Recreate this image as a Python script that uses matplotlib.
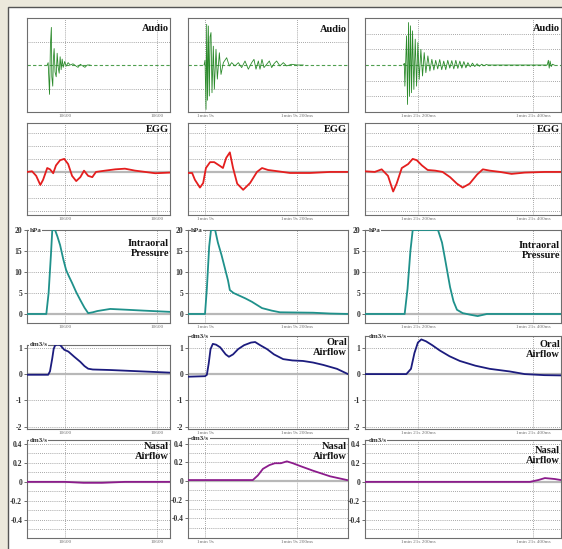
import matplotlib
matplotlib.use('Agg')
import matplotlib.pyplot as plt
from matplotlib.patches import Rectangle

W, H = 562, 549

# --- x axis: time in ms relative to the first grid line of each column ---
tick_pos = [0, 200]
col_tick_labels = [['10600', '10600'],
                   ['1min 9s', '1min 9s 200ms'],
                   ['1min 21s 200ms', '1min 21s 400ms']]

# --- Audio ---
audio1_t = [-39, -37, -34, -32, -30, -29, -27, -25.5, -24, -22, -19.5, -17.4, -15.2, -13, -10.9,
            -8.7, -6.5, -4.3, -1, 2, 6.5, 11, 17, 24, 28, 33, 39, 43, 48, 54]
audio1_v = [0, 0.1, -1.25, 0.9, 1.6, -0.5, -0.9, 0.3, 0.7, -0.3, -0.5, 0.5, -0.1, -0.35, 0.35,
            -0.2, 0.25, -0.1, 0.15, -0.05, 0.1, 0, 0.05, -0.05, -0.1, 0.03, -0.05, -0.1, 0, 0]
audio2_t = [-2, 0, 2.2, 3.6, 5.5, 7.2, 9.4, 11, 13, 15.2, 18.1, 20.3, 23.9, 26.8, 31.2, 34.8, 39.9,
            47.1, 52.9, 58, 65.2, 72.5, 79.7, 87, 94.2, 101.5, 106.5, 110.9, 116, 119.6, 123.9,
            128.3, 134.1, 139.9, 145, 150.7, 155.8, 163, 170.3, 177.5, 188.4, 199.3, 213.8]
audio2_v = [0, 0.2, -1.89, 1.73, -1.5, 1.66, -1.32, 1.2, 1.38, -1.18, 0.8, -1.03, 0.67, -0.6, 0.52,
            -0.4, 0.1, 0.31, -0.04, 0.1, -0.04, 0.1, -0.11, 0.17, -0.18, 0.1, 0.24, -0.18, 0.17,
            -0.18, 0.24, -0.11, 0.03, 0.17, -0.11, 0.07, 0.17, -0.04, 0.1, -0.04, 0.03, 0, 0]
audio3_t = [-25, -23.7, -22.6, -19.7, -18, -16.2, -14.5, -12.8, -11, -9.3, -7, -4.6, -2.3, 0, 2.3,
            5.2, 8.1, 11, 13.9, 17.4, 20.9, 24.3, 27.8, 31, 34.5, 38, 41.5, 45, 48.5, 52, 55.5,
            59, 62.5, 66, 69.5, 73, 76.5, 80, 83.5, 87, 91, 95, 99, 103, 107, 111, 115, 119, 122,
            225, 227, 228.5, 230, 232, 234, 237]
audio3_v = [0, 0.1, -1.35, 1.86, -2.52, 2.71, -1.99, 2.5, -1.77, 2.18, -1.56, 1.65, -1.35, 1.43,
            -0.92, 1.0, -0.7, 0.79, -0.49, 0.58, -0.38, 0.36, -0.32, 0.3, -0.25, 0.35, -0.3, 0.25,
            -0.3, 0.3, -0.2, 0.28, -0.25, 0.3, -0.22, 0.25, -0.2, 0.22, -0.18, 0.15, -0.12, 0.12,
            -0.1, 0.08, -0.08, 0.05, -0.05, 0.03, 0,
            0, 0.3, -0.2, 0.25, -0.1, 0.05, 0]

# --- EGG ---
egg1_t = [-83, -72, -63, -54, -48, -39, -33, -26, -20, -11, -2, 6.5, 15, 24, 33, 41, 50, 59, 67,
          87, 109, 130, 152, 174, 196, 228]
egg1_v = [0, 0.05, -0.3, -1.0, -0.6, 0.3, 0.2, -0.1, 0.5, 0.9, 1.0, 0.6, -0.3, -0.7, -0.4, 0.1,
          -0.3, -0.4, 0.0, 0.1, 0.2, 0.25, 0.1, 0.0, -0.1, -0.05]
egg2_t = [-37, -28, -22, -11, -4, 2, 11, 20, 33, 39, 46, 54, 61, 70, 83, 98, 113, 124, 137, 152,
          185, 228, 272, 311]
egg2_v = [-0.08, -0.08, -0.6, -1.2, -0.85, 0.3, 0.75, 0.75, 0.45, 0.3, 1.07, 1.5, 0.3, -0.9,
          -1.37, -0.85, 0, 0.3, 0.15, 0.08, -0.08, -0.08, 0, 0]
egg3_t = [-92, -75, -63, -52, -43, -37, -28, -17, -9, -2, 7, 17, 30, 43, 56, 68, 78, 90, 103, 113,
          125, 143, 163, 186, 221, 252]
egg3_v = [0.05, 0.0, 0.2, -0.3, -1.5, -0.9, 0.3, 0.6, 1.0, 0.9, 0.5, 0.15, 0.1, 0.0, -0.4, -0.9,
          -1.2, -0.9, -0.2, 0.2, 0.1, 0.0, -0.15, -0.05, 0.0, 0.0]

# --- Intraoral pressure (hPa, clipped at 20) ---
press1_t = [-83, -41, -36, -31, -28, -22, -17, -11, -4, 2, 8, 15, 24, 33, 42, 50, 60, 70, 98, 135,
            170, 228]
press1_v = [0, 0, 5, 14, 20, 20, 18.5, 16.4, 13, 10.5, 9, 7.4, 5.2, 3.3, 1.5, 0.2, 0.4, 0.7, 1.2,
            1.0, 0.8, 0.5]
press2_t = [-37, 0, 4, 9, 13, 22, 28, 36, 43, 50, 54, 62, 72, 88, 102, 124, 145, 163, 235, 272, 311]
press2_v = [0, 0, 6, 16, 20, 20, 17, 14, 11, 8, 5.7, 5.0, 4.5, 3.7, 2.9, 1.4, 0.8, 0.4, 0.3, 0.1, 0]
press3_t = [-92, -23, -18, -13, -9, 35, 42, 47, 56, 62, 68, 78, 92, 104, 120, 252]
press3_v = [0, 0, 6, 15, 20, 20, 17, 13.3, 6.4, 3.0, 1.0, 0.2, -0.2, -0.5, 0, 0]

# --- Oral airflow (dm3/s) ---
oral1_t = [-83, -37, -33, -28, -25, -22, -17, -11, -6, -2, 7, 20, 33, 42, 50, 60, 98, 163, 228]
oral1_v = [-0.03, -0.03, 0.1, 0.6, 0.95, 1.08, 1.12, 1.1, 1.0, 0.92, 0.85, 0.65, 0.46, 0.3, 0.2,
           0.17, 0.15, 0.1, 0.05]
oral2_t = [-37, 0, 4, 8, 12, 17, 24, 33, 45, 52, 61, 72, 85, 100, 109, 120, 135, 150, 170, 190,
           213, 235, 257, 287, 311]
oral2_v = [-0.1, -0.08, -0.03, 0.4, 0.95, 1.15, 1.12, 1.02, 0.75, 0.66, 0.75, 0.95, 1.1, 1.2, 1.22,
           1.1, 0.95, 0.75, 0.57, 0.52, 0.5, 0.44, 0.35, 0.2, 0]
oral3_t = [-92, -20, -12, -6, 0, 6, 14, 25, 38, 55, 73, 100, 125, 160, 186, 220, 248]
oral3_v = [0, 0, 0.2, 0.8, 1.2, 1.32, 1.25, 1.1, 0.9, 0.68, 0.5, 0.32, 0.2, 0.1, 0, -0.04, -0.05]

# --- Nasal airflow (dm3/s) ---
nasal1_t = [-83, 0, 40, 80, 130, 228]
nasal1_v = [0, 0, -0.01, -0.01, 0, 0]
nasal2_t = [-37, 50, 104, 115, 126, 140, 152, 165, 178, 191, 207, 235, 272, 309]
nasal2_v = [0.01, 0.01, 0.01, 0.06, 0.13, 0.17, 0.19, 0.19, 0.21, 0.19, 0.16, 0.11, 0.05, 0.01]
nasal3_t = [-92, 195, 210, 221, 238, 248]
nasal3_v = [0, 0, 0.02, 0.04, 0.03, 0.02]

series = [
    [(audio1_t, audio1_v), (audio2_t, audio2_v), (audio3_t, audio3_v)],
    [(egg1_t, egg1_v), (egg2_t, egg2_v), (egg3_t, egg3_v)],
    [(press1_t, press1_v), (press2_t, press2_v), (press3_t, press3_v)],
    [(oral1_t, oral1_v), (oral2_t, oral2_v), (oral3_t, oral3_v)],
    [(nasal1_t, nasal1_v), (nasal2_t, nasal2_v), (nasal3_t, nasal3_v)],
]
titles = [
    ['Audio', 'Audio', 'Audio'],
    ['EGG', 'EGG', 'EGG'],
    ['Intraoral\nPressure', '', 'Intraoral\nPressure'],
    ['', 'Oral\nAirflow', 'Oral\nAirflow'],
    ['Nasal\nAirflow', 'Nasal\nAirflow', 'Nasal\nAirflow'],
]
units = ['', '', 'hPa', 'dm3/s', 'dm3/s']
colors = ['#2b8a2b', '#e41e1e', '#1f918b', '#1c1c7e', '#8c1c8c']

# layout in pixels
cols_x = [(27, 170), (188, 348), (365, 561)]
col_xlim = [(-83, 228), (-37, 311), (-92, 249)]
rows_y = [[(18, 112)] * 3,
          [(123, 215)] * 3,
          [(230, 323)] * 3,
          [(345, 429), (336, 429), (336, 429)],
          [(440, 538), (438, 538), (440, 538)]]
row_ylim = [[(-2, 2), (-2, 2), (-3, 3)],
            [(-3.3, 3.75)] * 3,
            [(-2.15, 20)] * 3,
            [(-2.09, 1.1), (-2.09, 1.45), (-2.09, 1.45)],
            [(-0.59, 0.44), (-0.61, 0.46), (-0.59, 0.44)]]
title_off = [[-6, -7, -6], [-2, -2, -2], [-9, 0, -11], [0, -2, -4], [-2, -4, -6]]

serif = 'Liberation Serif'
grid_kw = dict(color='#8a8a8a', linestyle=(0, (1, 1.5)), linewidth=0.6)

fig = plt.figure(figsize=(W / 100, H / 100), dpi=100, facecolor='#ece9dc')
fig.add_artist(Rectangle((7.5 / W, -0.01), 1.0, 1 - 6.5 / H + 0.01, transform=fig.transFigure,
                         facecolor='white', edgecolor='#555555', linewidth=1.0, zorder=-1))

for r in range(5):
    for c in range(3):
        l, rr = cols_x[c]
        t, b = rows_y[r][c]
        ax = fig.add_axes([l / W, 1 - b / H, (rr - l) / W, (b - t) / H])
        ax.set_facecolor('white')
        ax.set_xlim(*col_xlim[c])
        ax.set_ylim(*row_ylim[r][c])
        for s in ax.spines.values():
            s.set_color('#6e6e6e')
            s.set_linewidth(0.8)

        # x ticks / vertical grid
        ax.set_xticks(tick_pos)
        ax.set_xticklabels(col_tick_labels[c], fontsize=3.8, color='#777777', family=serif)
        ax.tick_params(axis='x', length=0, pad=1.5)
        for xv in tick_pos:
            ax.axvline(xv, **grid_kw, zorder=1)

        # y ticks / horizontal grid
        if r == 0:
            yt = [-1, 1] if c < 2 else [-2, -1, 1, 2]
            ax.set_yticks([])
            for yv in yt:
                ax.axhline(yv, **grid_kw, zorder=1)
            ax.axhline(0, color='#4f9f4f', linestyle=(0, (3, 2)), linewidth=0.8, zorder=2)
        else:
            if r == 1:
                ax.set_yticks([])
                for yv in [-3, -2, -1, 1, 2, 3]:
                    ax.axhline(yv, **grid_kw, zorder=1)
            elif r == 2:
                ax.set_yticks([0, 5, 10, 15, 20])
                ax.set_yticklabels(['0', '5', '10', '15', '20'])
                for yv in [5, 10, 15]:
                    ax.axhline(yv, **grid_kw, zorder=1)
            elif r == 3:
                ax.set_yticks([-2, -1, 0, 1])
                ax.set_yticklabels(['-2', '-1', '0', '1'])
                for yv in [-2, -1, 1]:
                    ax.axhline(yv, **grid_kw, zorder=1)
            else:
                ax.set_yticks([-0.4, -0.2, 0, 0.2, 0.4])
                ax.set_yticklabels(['-0.4', '-0.2', '0', '0.2', '0.4'])
                for yv in [-0.5, -0.4, -0.3, -0.2, -0.1, 0.1, 0.2, 0.3, 0.4]:
                    ax.axhline(yv, **grid_kw, zorder=1)
            ax.axhline(0, color='#b8b8b8', linewidth=1.6, zorder=2)
            if r >= 2:
                ax.tick_params(axis='y', length=2, width=0.6, pad=1.5, color='#555555')
                for lab in ax.get_yticklabels():
                    lab.set_fontsize(5.5)
                    lab.set_family(serif)
                    lab.set_fontweight('bold')
                    lab.set_color('#333333')

        tx, ty = series[r][c]
        lw = 0.6 if r == 0 else 1.3
        ax.plot(tx, ty, color=colors[r], linewidth=lw, zorder=3)

        if units[r]:
            ax.text(0.02, 1.0, units[r], transform=ax.transAxes, ha='left', va='center',
                    fontsize=5, family=serif, fontweight='bold', color='#333333', zorder=5,
                    bbox=dict(facecolor='white', edgecolor='none', pad=0.3))
        if titles[r][c]:
            ax.annotate(titles[r][c], xy=(1, 1), xycoords='axes fraction',
                        xytext=(-1, title_off[r][c]), textcoords='offset pixels',
                        ha='right', va='top', fontsize=7.5, family=serif, fontweight='bold',
                        linespacing=1.1, color='#111111', annotation_clip=False, zorder=6)

fig.savefig('out.png', dpi=100, facecolor=fig.get_facecolor())
